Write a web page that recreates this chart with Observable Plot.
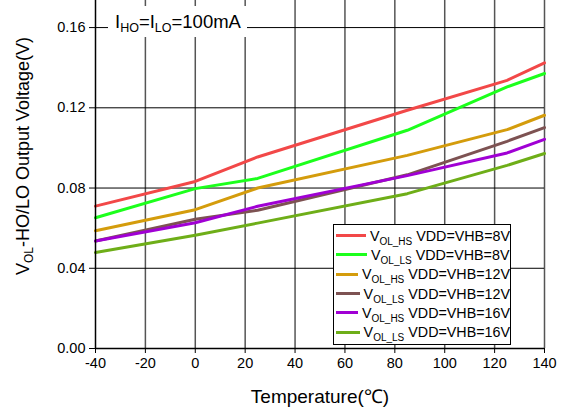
<!DOCTYPE html>
<html><head><meta charset="utf-8">
<script src="https://cdn.jsdelivr.net/npm/d3@7"></script>
<script src="https://cdn.jsdelivr.net/npm/@observablehq/plot@0.6"></script>
<style>
body{margin:0;background:#fff;font-family:"Liberation Sans",Arial,sans-serif;color:#000;}
#wrap{position:relative;width:562px;height:409px;overflow:hidden;}
#wrap svg{position:absolute;left:0;top:0;}
.note{position:absolute;left:108px;top:6px;width:139px;height:31px;background:#fff;font-size:18.5px;line-height:31px;padding-left:7px;box-sizing:border-box;white-space:nowrap;}
.note sub{font-size:12.5px;vertical-align:-4px;line-height:0;}
.ylab{position:absolute;left:23px;top:156px;transform:translate(-50%,-50%) rotate(-90deg);font-size:18px;white-space:nowrap;}
.ylab sub{font-size:12px;vertical-align:-4px;line-height:0;}
.xlab{position:absolute;left:320px;top:383px;transform:translateX(-50%);font-size:19px;white-space:nowrap;}
.legend{position:absolute;left:333px;top:224px;width:178px;height:121px;background:#fff;border:1px solid #000;box-sizing:border-box;padding-top:1px;}
.legend .row{height:19.3px;display:flex;align-items:center;font-size:14.3px;white-space:nowrap;}
.legend .sw{width:31px;height:3px;margin-left:2px;margin-right:4px;}
.legend sub{font-size:10px;vertical-align:-4px;line-height:0;}
</style></head><body><div id="wrap"></div>
<script>
const temps = [-40, 0, 25, 85, 125, 140];
const seriesNames = ["VOL_HS VDD=VHB=8V","VOL_LS VDD=VHB=8V","VOL_HS VDD=VHB=12V","VOL_LS VDD=VHB=12V","VOL_HS VDD=VHB=16V","VOL_LS VDD=VHB=16V"];
const seriesSub = ["OL_HS","OL_LS","OL_HS","OL_LS","OL_HS","OL_LS"];
const seriesRest = ["VDD=VHB=8V","VDD=VHB=8V","VDD=VHB=12V","VDD=VHB=12V","VDD=VHB=16V","VDD=VHB=16V"];
const colors = ["#f24848","#1cff1c","#d49c0c","#7d5252","#a000d4","#6eae18"];
const hs8  = [0.0710, 0.0833, 0.0955, 0.1188, 0.1337, 0.1424];
const ls8  = [0.0652, 0.0797, 0.0848, 0.1088, 0.1304, 0.1371];
const hs12 = [0.0587, 0.0692, 0.0800, 0.0963, 0.1091, 0.1163];
const ls12 = [0.0536, 0.0644, 0.0689, 0.0866, 0.1033, 0.1101];
const hs16 = [0.0536, 0.0627, 0.0709, 0.0862, 0.0975, 0.1043];
const ls16 = [0.0479, 0.0565, 0.0625, 0.0772, 0.0913, 0.0972];
const xTicks = [-40, -20, 0, 20, 40, 60, 80, 100, 120, 140];
const yTicks = [0, 0.04, 0.08, 0.12, 0.16];

const values = [hs8, ls8, hs12, ls12, hs16, ls16];
const data = seriesNames.flatMap((name, i) => temps.map((t, j) => ({name, t, v: values[i][j]})));

const plot = Plot.plot({
  width: 562, height: 409,
  marginLeft: 95, marginRight: 18, marginTop: 0, marginBottom: 61,
  style: {fontFamily: "Liberation Sans, Arial, sans-serif", fontSize: "14px", color: "#000", background: "#fff"},
  x: {domain: [-40, 140], label: null},
  y: {domain: [0, 0.1735], label: null},
  color: {domain: seriesNames, range: colors},
  marks: [
    Plot.ruleX(xTicks.slice(1), {stroke: "#555", strokeWidth: 1.5}),
    Plot.ruleY(yTicks.slice(1), {stroke: "#000", strokeWidth: 1}),
    Plot.line(data, {x: "t", y: "v", stroke: "name", strokeWidth: 3}),
    Plot.ruleX([-40], {stroke: "#000", strokeWidth: 1.5}),
    Plot.ruleY([0], {stroke: "#000", strokeWidth: 1.5}),
    Plot.axisX({ticks: xTicks, tickSize: 5, tickPadding: 4, tickFormat: d => String(d), label: null, fontSize: 14.5}),
    Plot.axisY({ticks: yTicks, tickSize: 6, tickPadding: 4, tickFormat: d3.format(".2f"), label: null, fontSize: 14.5})
  ]
});
const wrap = document.getElementById("wrap");
wrap.appendChild(plot);

const note = document.createElement("div");
note.className = "note";
note.innerHTML = "I<sub>HO</sub>=I<sub>LO</sub>=100mA";
wrap.appendChild(note);

const ylab = document.createElement("div");
ylab.className = "ylab";
ylab.innerHTML = "V<sub>OL</sub>-HO/LO Output Voltage(V)";
wrap.appendChild(ylab);

const xlab = document.createElement("div");
xlab.className = "xlab";
xlab.textContent = "Temperature(℃)";
wrap.appendChild(xlab);

const legend = document.createElement("div");
legend.className = "legend";
seriesNames.forEach((n, i) => {
  const row = document.createElement("div");
  row.className = "row";
  row.innerHTML = `<span class="sw" style="background:${colors[i]}"></span><span>V<sub>${seriesSub[i]}</sub> ${seriesRest[i]}</span>`;
  legend.appendChild(row);
});
wrap.appendChild(legend);
</script></body></html>
